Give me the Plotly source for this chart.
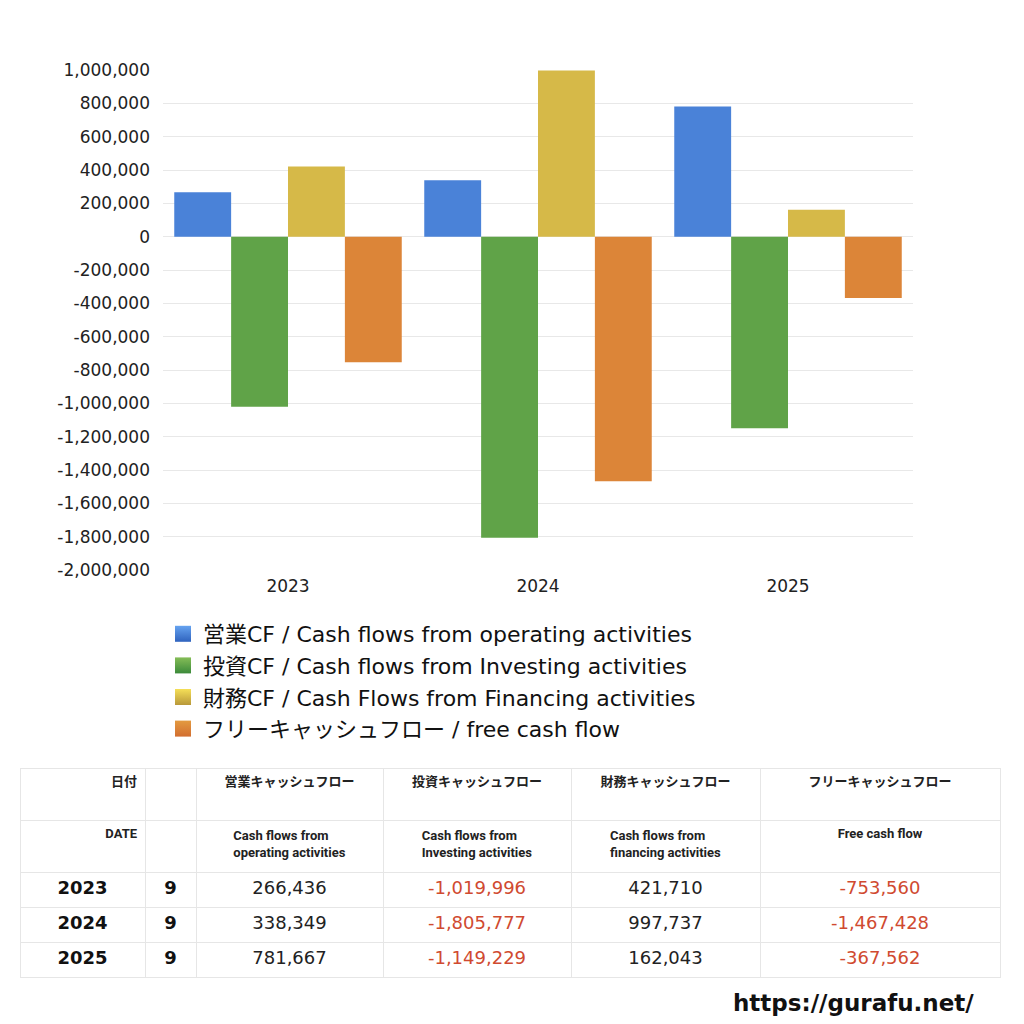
import plotly.graph_objects as go

# data
years = ["2023", "2024", "2025"]
months = ["9", "9", "9"]
operating_cf = [266436, 338349, 781667]
investing_cf = [-1019996, -1805777, -1149229]
financing_cf = [421710, 997737, 162043]
free_cf = [-753560, -1467428, -367562]

series_names = [
    "営業CF / Cash flows from operating activities",
    "投資CF / Cash flows from Investing activities",
    "財務CF / Cash Flows from Financing activities",
    "フリーキャッシュフロー / free cash flow",
]
y_ticks = [1000000, 800000, 600000, 400000, 200000, 0, -200000, -400000,
           -600000, -800000, -1000000, -1200000, -1400000, -1600000,
           -1800000, -2000000]

header_jp = ["日付", "", "営業キャッシュフロー", "投資キャッシュフロー",
             "財務キャッシュフロー", "フリーキャッシュフロー"]
header_en = ["DATE", "", "Cash flows from<br>operating activities",
             "Cash flows from<br>Investing activities",
             "Cash flows from<br>financing activities", "Free cash flow"]

# bar colours (mid tone) and legend swatch gradient ends
colors = ["#4a82d8", "#60a348", "#d6b948", "#dc8538"]
tops = ["#66a3f0", "#85bd57", "#f5df57", "#e39a40"]
bottoms = ["#2f63be", "#3b8a3a", "#b8983a", "#d26e30"]

FONT = "DejaVu Sans, Noto Sans CJK JP, sans-serif"
HEAD = "Roboto, Noto Sans CJK JP, sans-serif"
RED = "#d04a30"
W, H = 1008, 1008   # page puts the figure 8px in from the corner
OFF = 8


def px(x):
    return (x - OFF) / W


def py(y):
    return 1 - (y - OFF) / H


fig = go.Figure()

values = [operating_cf, investing_cf, financing_cf, free_cf]
for i in range(4):
    fig.add_trace(go.Bar(
        x=years, y=values[i], name=series_names[i],
        marker=dict(color=colors[i], line=dict(width=0)),
        showlegend=False, hoverinfo="y",
    ))
    # legend swatch only
    fig.add_trace(go.Scatter(
        x=[None], y=[None], mode="markers", name=series_names[i],
        marker=dict(symbol="square", size=20, color=tops[i],
                    gradient=dict(type="vertical", color=bottoms[i])),
    ))


def fmt(v):
    return f"{v:,}"


def col_colors(vals):
    return [RED if v < 0 else "#222222" for v in vals]


fig.add_trace(go.Table(
    domain=dict(x=[px(20), px(1000)], y=[py(980), py(768)]),
    columnwidth=[125, 51, 187, 188, 189, 240],
    header=dict(
        values=[[a, b] for a, b in zip(header_jp, header_en)],
        align=["right", "center", "center", "center", "center", "center"],
        font=dict(family=HEAD, size=13, color="#222222", weight="bold"),
        fill_color="white",
        line=dict(color="#e6e6e6", width=1),
        height=52,
    ),
    cells=dict(
        values=[years, months,
                [fmt(v) for v in operating_cf],
                [fmt(v) for v in investing_cf],
                [fmt(v) for v in financing_cf],
                [fmt(v) for v in free_cf]],
        align="center",
        font=dict(
            family=FONT,
            size=18,
            weight=["bold", "bold", "normal", "normal", "normal", "normal"],
            color=[["#111111"] * 3, ["#111111"] * 3,
                   col_colors(operating_cf), col_colors(investing_cf),
                   col_colors(financing_cf), col_colors(free_cf)],
        ),
        fill_color="white",
        line=dict(color="#e6e6e6", width=1),
        height=35,
    ),
))

fig.update_layout(
    width=W, height=H,
    margin=dict(l=0, r=0, t=0, b=0),
    paper_bgcolor="white", plot_bgcolor="white",
    barmode="group", bargap=0.09, bargroupgap=0,
    font=dict(family=FONT, size=17, color="#222222"),
    xaxis=dict(domain=[px(163), px(913)], type="category",
               showgrid=False, zeroline=False, showline=False,
               ticks="", automargin=False, ticklabelstandoff=4,
               tickfont=dict(size=17, color="#222222")),
    yaxis=dict(domain=[py(570), py(70)], range=[-2000000, 1000000],
               tickvals=y_ticks, ticktext=[fmt(v) for v in y_ticks],
               showgrid=True, gridcolor="#e8e8e8", gridwidth=1,
               zeroline=True, zerolinecolor="#e8e8e8", zerolinewidth=1,
               showline=False, ticks="", automargin=False,
               ticklabelstandoff=12,
               tickfont=dict(size=17, color="#222222")),
    legend=dict(x=px(163), y=py(613), xanchor="left", yanchor="top",
                font=dict(family=FONT, size=22, color="#111111"),
                bgcolor="rgba(0,0,0,0)", itemsizing="trace",
                tracegroupgap=0),
    annotations=[dict(
        text="https://gurafu.net/", x=px(976), y=py(1003),
        xref="paper", yref="paper", xanchor="right", yanchor="middle",
        showarrow=False,
        font=dict(family=FONT, size=23, color="#111111", weight="bold"),
    )],
)

fig.write_html("out.html")
